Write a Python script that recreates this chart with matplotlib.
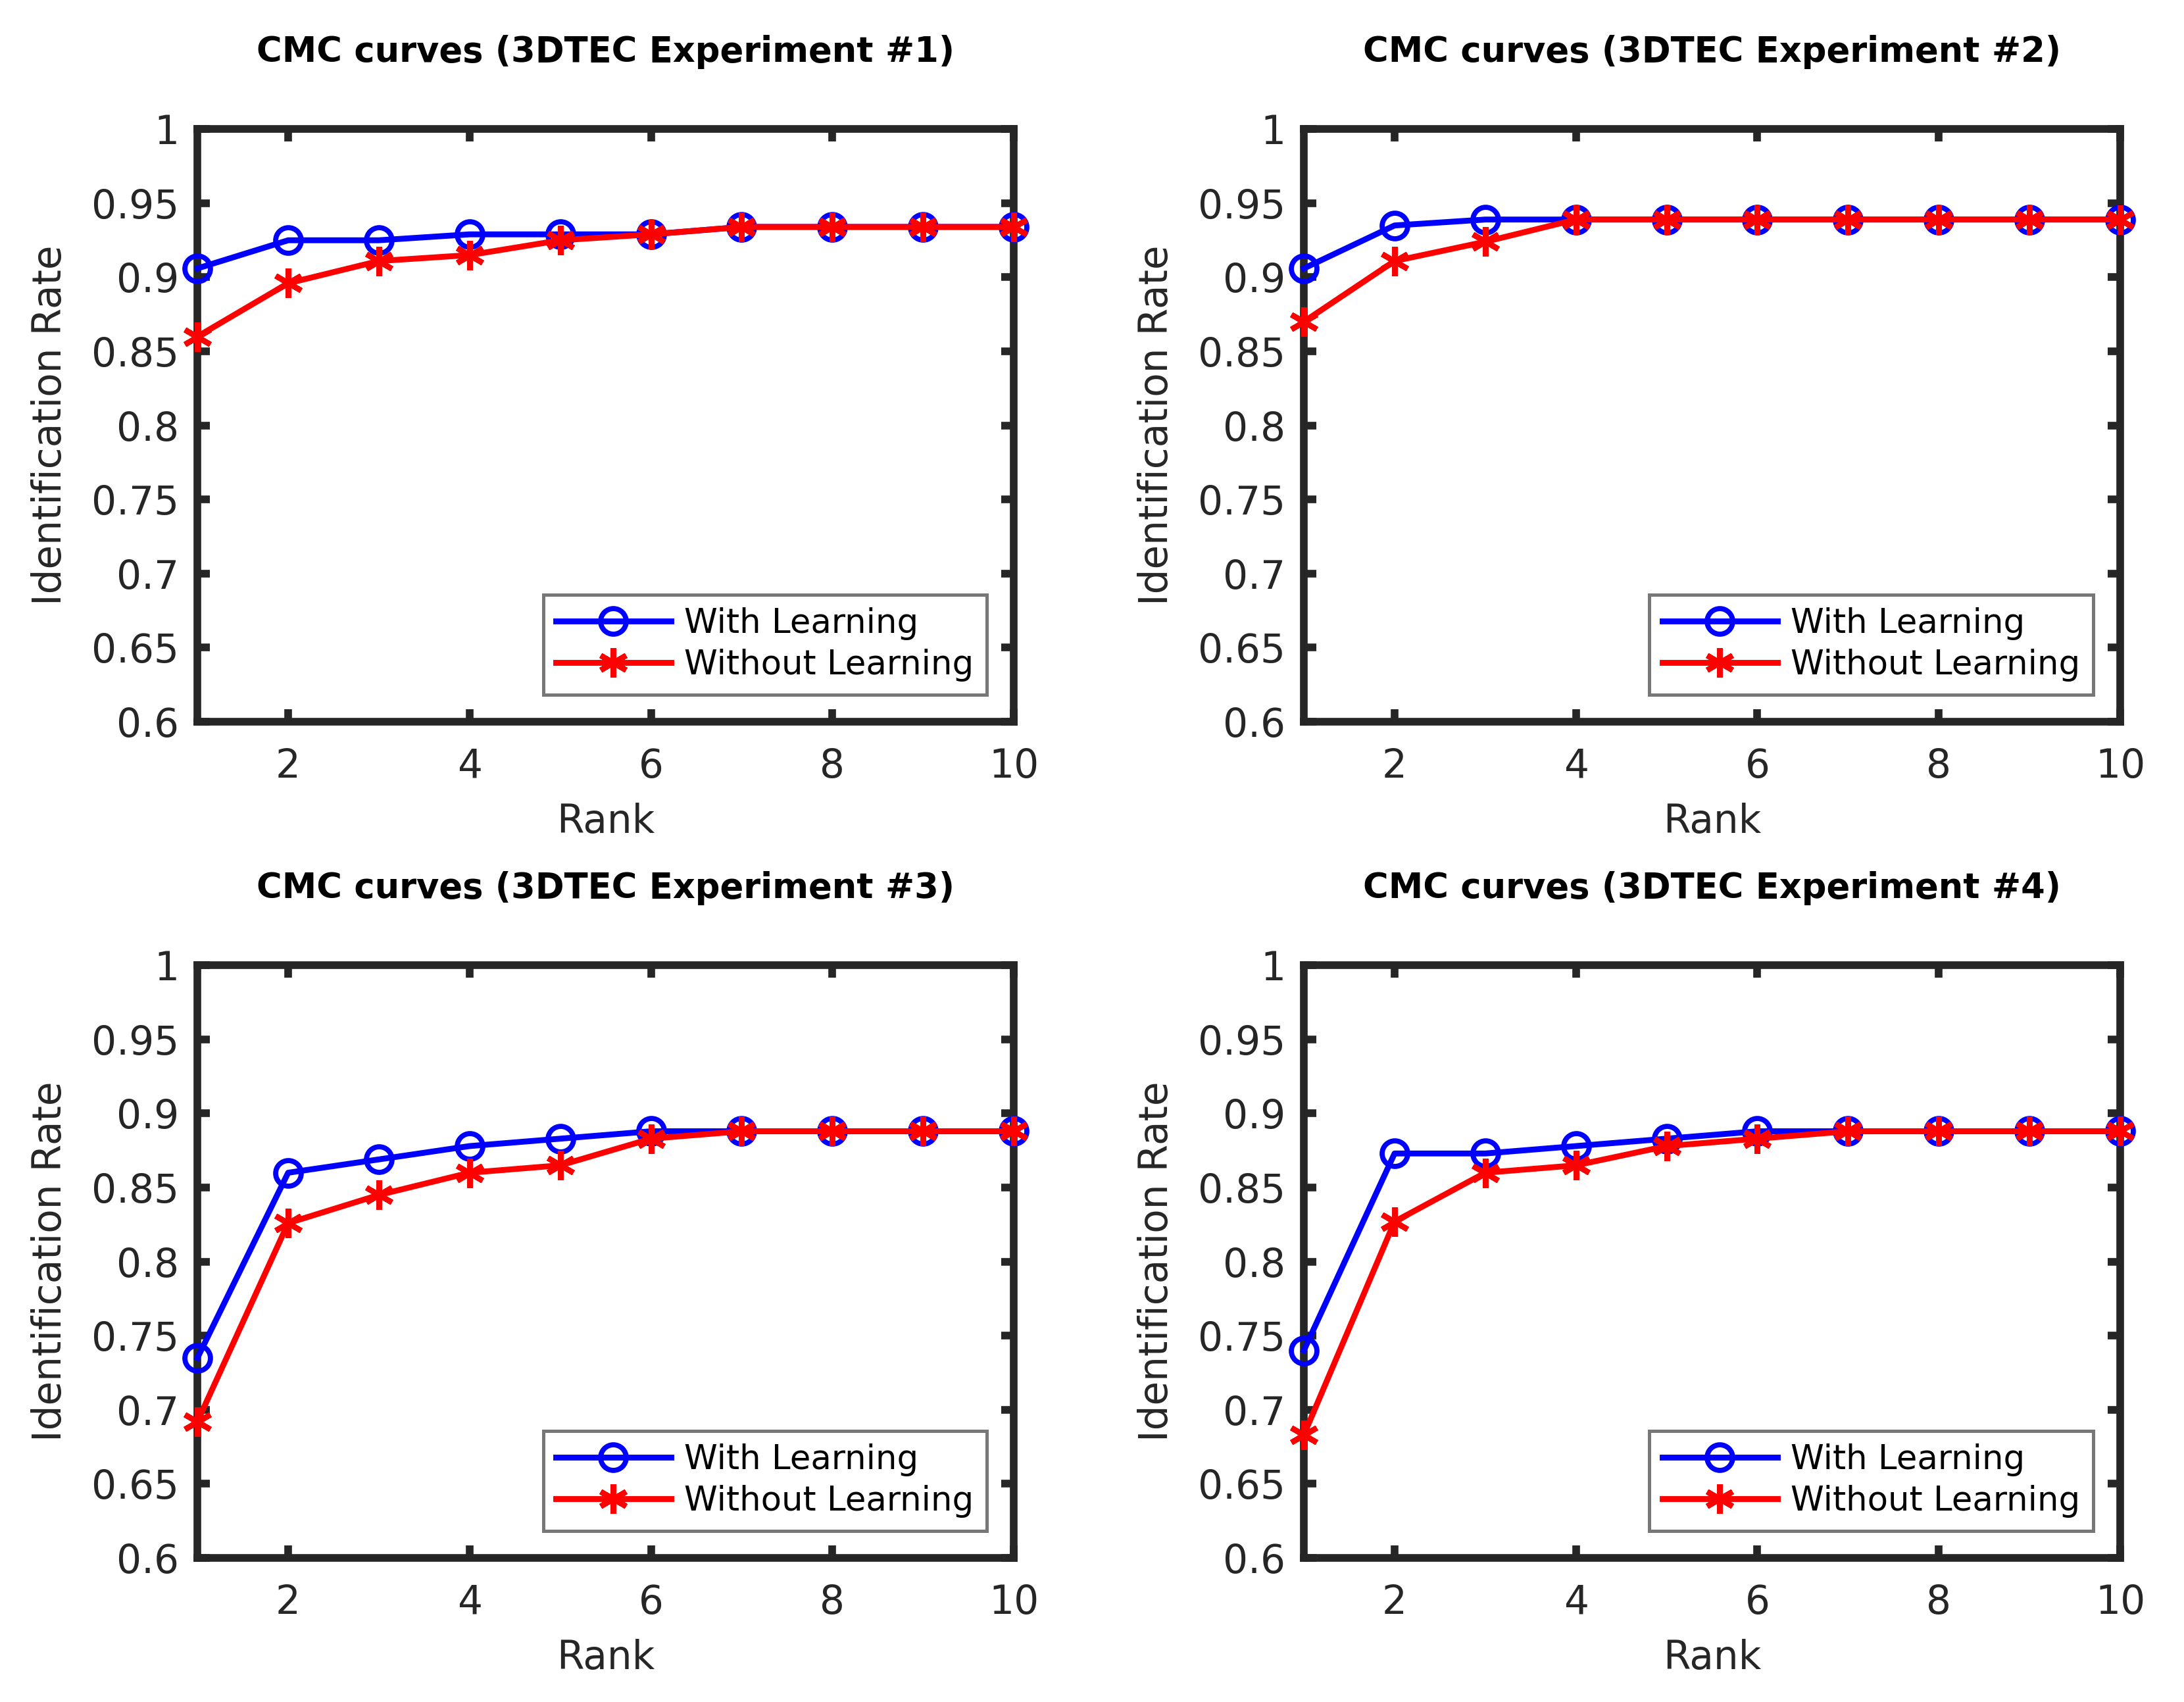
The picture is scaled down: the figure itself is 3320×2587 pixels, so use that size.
import matplotlib
matplotlib.use("Agg")
import matplotlib.pyplot as plt
import numpy as np

ranks = [1, 2, 3, 4, 5, 6, 7, 8, 9, 10]

titles = ["CMC curves (3DTEC Experiment #1)", "CMC curves (3DTEC Experiment #2)",
          "CMC curves (3DTEC Experiment #3)", "CMC curves (3DTEC Experiment #4)"]

with_learning_1 = [0.906, 0.925, 0.925, 0.929, 0.929, 0.929, 0.934, 0.934, 0.934, 0.934]
without_learning_1 = [0.860, 0.896, 0.911, 0.915, 0.925, 0.929, 0.934, 0.934, 0.934, 0.934]

with_learning_2 = [0.906, 0.935, 0.939, 0.939, 0.939, 0.939, 0.939, 0.939, 0.939, 0.939]
without_learning_2 = [0.870, 0.911, 0.924, 0.939, 0.939, 0.939, 0.939, 0.939, 0.939, 0.939]

with_learning_3 = [0.735, 0.860, 0.869, 0.878, 0.883, 0.888, 0.888, 0.888, 0.888, 0.888]
without_learning_3 = [0.692, 0.826, 0.845, 0.860, 0.865, 0.883, 0.888, 0.888, 0.888, 0.888]

with_learning_4 = [0.740, 0.873, 0.873, 0.878, 0.883, 0.888, 0.888, 0.888, 0.888, 0.888]
without_learning_4 = [0.683, 0.827, 0.860, 0.865, 0.878, 0.883, 0.888, 0.888, 0.888, 0.888]

series = [(with_learning_1, without_learning_1), (with_learning_2, without_learning_2),
          (with_learning_3, without_learning_3), (with_learning_4, without_learning_4)]

legend_labels = ["With Learning", "Without Learning"]
yticks = [0.6, 0.65, 0.7, 0.75, 0.8, 0.85, 0.9, 0.95, 1.0]
ytick_labels = ["0.6", "0.65", "0.7", "0.75", "0.8", "0.85", "0.9", "0.95", "1"]
xticks = [2, 4, 6, 8, 10]

plt.rcParams['font.family'] = ['DejaVu Sans']

fig = plt.figure(figsize=(16.6, 12.935), dpi=200)

positions = [
    [0.0904, 0.5760, 0.3738, 0.3481],
    [0.5970, 0.5760, 0.3738, 0.3481],
    [0.0904, 0.0847, 0.3738, 0.3481],
    [0.5970, 0.0847, 0.3738, 0.3481],
]

axis_color = '#262626'
for i, pos in enumerate(positions):
    ax = fig.add_axes(pos)
    wl, wol = series[i]
    ax.plot(ranks, wl, color='#0000ff', lw=3.2, marker='o', ms=14, mfc='none',
            mec='#0000ff', mew=2.8, label=legend_labels[0], clip_on=False, zorder=3)
    ax.plot(ranks, wol, color='#ff0000', lw=3.2, marker=(6, 2, 0), ms=16,
            mec='#ff0000', mew=3.0, label=legend_labels[1], clip_on=False, zorder=4)
    ax.set_xlim(1, 10)
    ax.set_ylim(0.6, 1.0)
    ax.set_xticks(xticks)
    ax.set_yticks(yticks)
    ax.set_yticklabels(ytick_labels)
    ax.tick_params(direction='in', length=7, width=4.2, color=axis_color,
                   labelsize=21.5, top=True, right=True, labelcolor='#262626', pad=10)
    ax.tick_params(axis='x', pad=14)
    for s in ax.spines.values():
        s.set_linewidth(4.2)
        s.set_color(axis_color)
    ax.set_title(titles[i], fontsize=19, fontweight='bold', pad=37)
    ax.set_xlabel("Rank", fontsize=21.5, color='#262626', labelpad=9)
    ax.set_ylabel("Identification Rate", fontsize=21.5, color='#262626', labelpad=12)
    leg = ax.legend(loc='lower right', fontsize=18.5, frameon=True, fancybox=False,
                    handlelength=3.4, borderpad=0.38, labelspacing=0.25,
                    handletextpad=0.4, borderaxespad=0.8)
    leg.get_frame().set_edgecolor('#555555')
    leg.get_frame().set_linewidth(1.8)

fig.savefig("out.png", dpi=200, facecolor='white')
